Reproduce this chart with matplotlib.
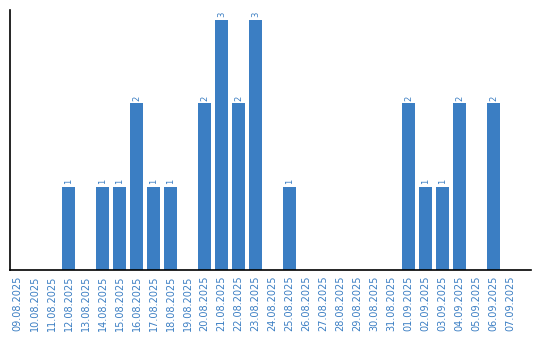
import matplotlib
matplotlib.use("Agg")
import matplotlib.pyplot as plt

dates = ["09.08.2025", "10.08.2025", "11.08.2025", "12.08.2025", "13.08.2025",
         "14.08.2025", "15.08.2025", "16.08.2025", "17.08.2025", "18.08.2025",
         "19.08.2025", "20.08.2025", "21.08.2025", "22.08.2025", "23.08.2025",
         "24.08.2025", "25.08.2025", "26.08.2025", "27.08.2025", "28.08.2025",
         "29.08.2025", "30.08.2025", "31.08.2025", "01.09.2025", "02.09.2025",
         "03.09.2025", "04.09.2025", "05.09.2025", "06.09.2025", "07.09.2025"]
counts = [0, 0, 0, 1, 0, 1, 1, 2, 1, 1, 0, 2, 3, 2, 3, 0, 1, 0, 0, 0,
          0, 0, 0, 2, 1, 1, 2, 0, 2, 0]

blue = "#3b7ec3"

fig = plt.figure(figsize=(5.4, 3.4), dpi=100)
ax = fig.add_axes([0.0185, 0.206, 0.965, 0.765])

x = list(range(len(dates)))
bars = ax.bar(x, counts, width=0.8, color=blue)

for xi, c in zip(x, counts):
    if c > 0:
        ax.text(xi, c + 0.03, str(c), rotation=90, ha="center", va="bottom",
                fontsize=6, color=blue)

# a bit of empty room after the last day, like the original
ax.set_xlim(-0.45, 30.2)
ax.set_ylim(0, 3.12)
ax.set_xticks(x)
ax.set_xticklabels(dates, rotation=90, fontsize=7, color=blue)
ax.tick_params(axis="x", length=0, pad=4)
ax.set_yticks([])
ax.spines["top"].set_visible(False)
ax.spines["right"].set_visible(False)
ax.spines["left"].set_linewidth(1.2)
ax.spines["bottom"].set_linewidth(1.2)

fig.savefig("out.png", dpi=100)
